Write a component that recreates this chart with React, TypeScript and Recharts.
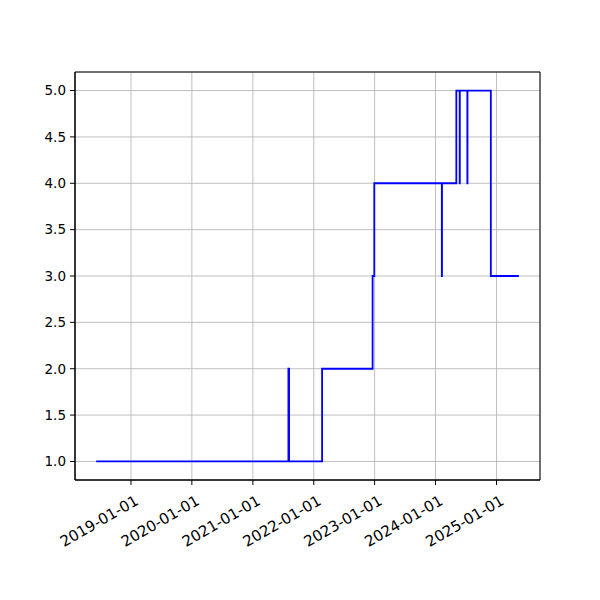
import { CartesianGrid, Line, LineChart, ReferenceArea, XAxis, YAxis } from "recharts";

// change events: from this date on the level is the given value
const dates = [
  "2018-06-06",
  "2021-08-02",
  "2021-08-06",
  "2022-02-20",
  "2022-12-20",
  "2022-12-30",
  "2024-02-08",
  "2024-02-09",
  "2024-05-05",
  "2024-05-25",
  "2024-05-26",
  "2024-07-10",
  "2024-07-11",
  "2024-11-28",
  "2025-05-15",
];
const levels = [1, 2, 1, 2, 3, 4, 3, 4, 5, 4, 5, 4, 5, 3, 3];
const yTicks = [1.0, 1.5, 2.0, 2.5, 3.0, 3.5, 4.0, 4.5, 5.0];
const xTickLabels = [
  "2019-01-01",
  "2020-01-01",
  "2021-01-01",
  "2022-01-01",
  "2023-01-01",
  "2024-01-01",
  "2025-01-01",
];

const ms = (s: string) => Date.parse(s + "T00:00:00Z");
const data = dates.map((d, i) => ({ t: ms(d), v: levels[i] }));
const tMin = data[0].t;
const tMax = data[data.length - 1].t;
const pad = (tMax - tMin) * 0.05;
const xDomain = [tMin - pad, tMax + pad];
const yDomain = [0.8, 5.2];
const xTicks = xTickLabels.map(ms);

const fmtDate = (t: number) => new Date(t).toISOString().slice(0, 10);

const DateTick = (props: any) => {
  const { x, y, payload } = props;
  const ax = x + 3;
  const ay = y + 7;
  return (
    <text
      x={ax}
      y={ay}
      textAnchor="end"
      dominantBaseline="hanging"
      fontSize={15}
      fill="#000"
      fontFamily="DejaVu Sans"
      transform={`rotate(-30, ${ax}, ${ay})`}
    >
      {fmtDate(payload.value)}
    </text>
  );
};

export default function App() {
  return (
    <div style={{ position: "absolute", left: 0, top: 0, width: 600, height: 600, background: "#fff" }}>
      <LineChart
        width={600}
        height={600}
        data={data}
        margin={{ top: 72, right: 60, bottom: 60, left: 25 }}
        style={{ fontFamily: "DejaVu Sans" }}
      >
        <CartesianGrid stroke="#b0b0b0" strokeWidth={0.8} />
        <XAxis
          dataKey="t"
          type="number"
          scale="time"
          domain={xDomain}
          ticks={xTicks}
          interval={0}
          height={60}
          tick={<DateTick />}
          tickSize={5}
          tickLine={{ stroke: "#000" }}
          axisLine={{ stroke: "#000" }}
          allowDataOverflow
        />
        <YAxis
          type="number"
          domain={yDomain}
          ticks={yTicks}
          interval={0}
          width={50}
          tickSize={5}
          tickMargin={4}
          tickFormatter={(v: number) => v.toFixed(1)}
          tick={{ fill: "#000", fontSize: 13.5 }}
          tickLine={{ stroke: "#000" }}
          axisLine={{ stroke: "#000" }}
          allowDataOverflow
        />
        <ReferenceArea
          x1={xDomain[0]}
          x2={xDomain[1]}
          y1={yDomain[0]}
          y2={yDomain[1]}
          fill="none"
          fillOpacity={0}
          stroke="#000"
          strokeWidth={1}
        />
        <Line
          type="stepAfter"
          dataKey="v"
          stroke="#0000ff"
          strokeWidth={1.8}
          dot={false}
          isAnimationActive={false}
        />
      </LineChart>
    </div>
  );
}
